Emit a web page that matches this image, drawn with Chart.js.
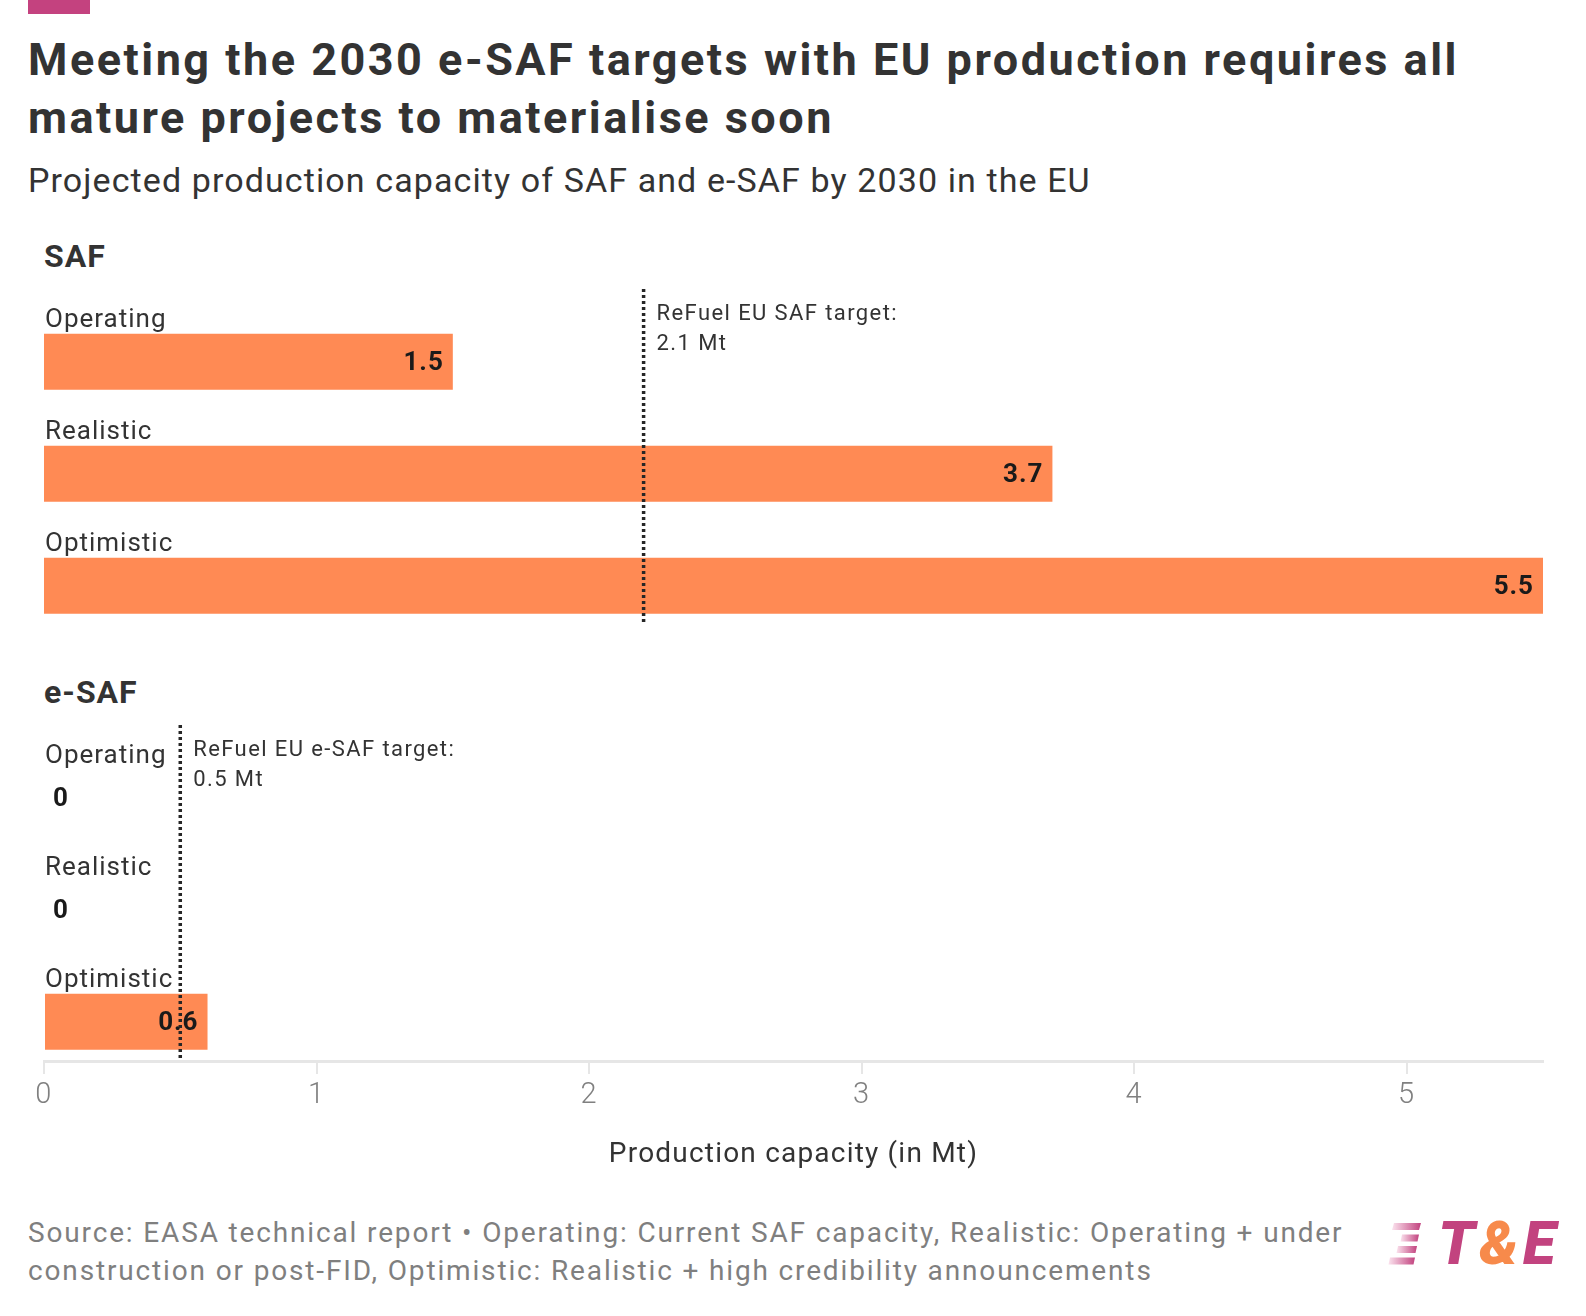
<!DOCTYPE html>
<html>
<head>
<meta charset="utf-8">
<script src="https://cdn.jsdelivr.net/npm/chart.js@4.4.1/dist/chart.umd.min.js"></script>
<style>
  html, body { margin: 0; padding: 0; background: #fff; }
  body { width: 1586px; height: 1316px; position: relative; overflow: hidden; font-family: Roboto, sans-serif; color: #333; }
  .abs { position: absolute; white-space: nowrap; }
  #topbar { left: 28px; top: 0; width: 62px; height: 14px; background: #c4427f; }
  #title { left: 28px; top: 31px; font-size: 45px; line-height: 58px; font-weight: bold; color: #333; letter-spacing: 2.5px; }
  #subtitle { left: 28px; top: 160px; font-size: 34px; line-height: 40px; color: #333; letter-spacing: 1.1px; }
  .facet { left: 44px; font-size: 32px; line-height: 40px; font-weight: bold; color: #333; letter-spacing: 1px; }
  #footer { left: 28px; top: 1214px; font-size: 28px; line-height: 38px; color: #7f7f7f; letter-spacing: 1.85px; }
  #logo { left: 1388px; top: 1219px; height: 50px; }
  #logo svg { position: absolute; left: 0; top: 4px; }
  #logo .word { position: absolute; left: 50px; top: 0; font-size: 60px; line-height: 50px; font-weight: 900; font-style: italic; color: #c2437f; letter-spacing: 4.5px; }
  #logo .amp { color: #f78a4b; }
  canvas { position: absolute; left: 0; }
</style>
</head>
<body>
<div class="abs" id="topbar"></div>
<div class="abs" id="title">Meeting the 2030 e-SAF targets with EU production requires all<br>mature projects to materialise soon</div>
<div class="abs" id="subtitle">Projected production capacity of SAF and e-SAF by 2030 in the EU</div>
<div class="abs facet" style="top:236px">SAF</div>
<div class="abs facet" style="top:672px">e-SAF</div>
<canvas id="safChart" width="1586" height="336" style="top:289px"></canvas>
<canvas id="esafChart" width="1586" height="447" style="top:725px"></canvas>
<div class="abs" id="footer">Source: EASA technical report • Operating: Current SAF capacity, Realistic: Operating + under<br>construction or post-FID, Optimistic: Realistic + high credibility announcements</div>
<div class="abs" id="logo">
  <svg width="34" height="44" viewBox="0 0 34 44">
    <defs>
      <linearGradient id="stripe" x1="0" x2="1" y1="0" y2="0">
        <stop offset="0" stop-color="#fbe3ee"/>
        <stop offset="1" stop-color="#c2437f"/>
      </linearGradient>
    </defs>
    <polygon points="6,0 33,0 31,7 4,7" fill="url(#stripe)"/>
    <polygon points="14,11.5 31,11.5 29.5,18.5 12.5,18.5" fill="url(#stripe)"/>
    <polygon points="10,23 29,23 27.5,30 8.5,30" fill="url(#stripe)"/>
    <polygon points="2,34.5 27,34.5 25.5,41.5 0.5,41.5" fill="url(#stripe)"/>
  </svg>
  <span class="word">T<span class="amp">&amp;</span>E</span>
</div>

<script>
// Data
const categories = ['Operating', 'Realistic', 'Optimistic'];
const safValues = [1.5, 3.7, 5.5];
const esafValues = [0, 0, 0.6];
const xTickValues = [0, 1, 2, 3, 4, 5];
const xMax = 5.5;
// where the dotted target lines sit on the axis, and their notes
const safTarget = 2.2;
const esafTarget = 0.5;
const safTargetText = ['ReFuel EU SAF target:', '2.1 Mt'];
const esafTargetText = ['ReFuel EU e-SAF target:', '0.5 Mt'];

const barColor = '#ff8a54';

// wider letter spacing for all canvas text (axis title too)
const spacing = {
    id: 'spacing',
    beforeDraw(chart) { chart.ctx.letterSpacing = '1.2px'; }
};

// Labels above the bars, values at the bar ends, and the target line
const barLabels = {
    id: 'barLabels',
    afterDatasetsDraw(chart, args, opts) {
        const ctx = chart.ctx;
        const area = chart.chartArea;
        const data = chart.data.datasets[0].data;
        ctx.save();
        chart.getDatasetMeta(0).data.forEach((bar, i) => {
            const top = bar.y - bar.height / 2;
            ctx.letterSpacing = '1px';
            ctx.font = '26px Roboto';
            ctx.fillStyle = '#333';
            ctx.textAlign = 'left';
            ctx.textBaseline = 'alphabetic';
            ctx.fillText(categories[i], area.left + 1, top - 7);

            const text = String(data[i].x);
            ctx.font = 'bold 26px Roboto';
            ctx.fillStyle = '#1a1a1a';
            ctx.textBaseline = 'middle';
            const w = ctx.measureText(text).width;
            if (bar.x - bar.base > w + 20) {
                ctx.textAlign = 'right';
                ctx.fillText(text, bar.x - 9, bar.y + 1.5);
            } else {
                ctx.textAlign = 'left';
                ctx.fillText(text, bar.x + 9, bar.y + 1.5);
            }
        });

        const x = chart.scales.x.getPixelForValue(opts.value);
        ctx.strokeStyle = '#262626';
        ctx.lineWidth = 3.5;
        ctx.setLineDash([3, 3]);
        ctx.beginPath();
        ctx.moveTo(x, area.top);
        ctx.lineTo(x, area.bottom);
        ctx.stroke();
        ctx.setLineDash([]);

        ctx.letterSpacing = '1.4px';
        ctx.font = '22px Roboto';
        ctx.fillStyle = '#333';
        ctx.textAlign = 'left';
        ctx.textBaseline = 'alphabetic';
        opts.text.forEach((line, k) => ctx.fillText(line, x + 13, area.top + 31 + k * 30));
        ctx.restore();
    }
};

function makeChart(id, values, target, targetText, showAxis) {
    return new Chart(document.getElementById(id), {
        type: 'bar',
        data: {
            datasets: [{
                data: categories.map((c, i) => ({ x: values[i], y: i })),
                backgroundColor: barColor,
                borderWidth: 0,
                barPercentage: 0.5,
                categoryPercentage: 1
            }]
        },
        options: {
            indexAxis: 'y',
            responsive: false,
            animation: false,
            layout: { padding: { left: 44, right: 43, top: 0, bottom: 0 } },
            plugins: {
                legend: { display: false },
                tooltip: { enabled: false },
                barLabels: { value: target, text: targetText }
            },
            scales: {
                y: {
                    type: 'linear',
                    min: -0.65,
                    max: 2.35,
                    reverse: true,
                    offset: false,
                    grid: { offset: false },
                    display: false,
                    afterBuildTicks: (scale) => {
                        scale.ticks = categories.map((c, i) => ({ value: i }));
                    }
                },
                x: {
                    type: 'linear',
                    min: 0,
                    max: xMax,
                    display: showAxis,
                    afterBuildTicks: (scale) => {
                        scale.ticks = xTickValues.map(v => ({ value: v }));
                    },
                    afterFit: (scale) => { if (showAxis) scale.height = 111; },
                    border: { display: true, color: '#e6e6e6', width: 3 },
                    grid: { drawOnChartArea: false, drawTicks: true, tickLength: 13, color: '#e6e6e6', lineWidth: 2 },
                    ticks: {
                        padding: 4,
                        color: '#808080',
                        font: { family: 'Roboto', size: 29, weight: '300' }
                    },
                    title: {
                        display: true,
                        text: 'Production capacity (in Mt)',
                        color: '#333',
                        padding: 0,
                        font: { family: 'Roboto', size: 28 }
                    }
                }
            }
        },
        plugins: [spacing, barLabels]
    });
}

makeChart('safChart', safValues, safTarget, safTargetText, false);
makeChart('esafChart', esafValues, esafTarget, esafTargetText, true);
</script>
</body>
</html>
